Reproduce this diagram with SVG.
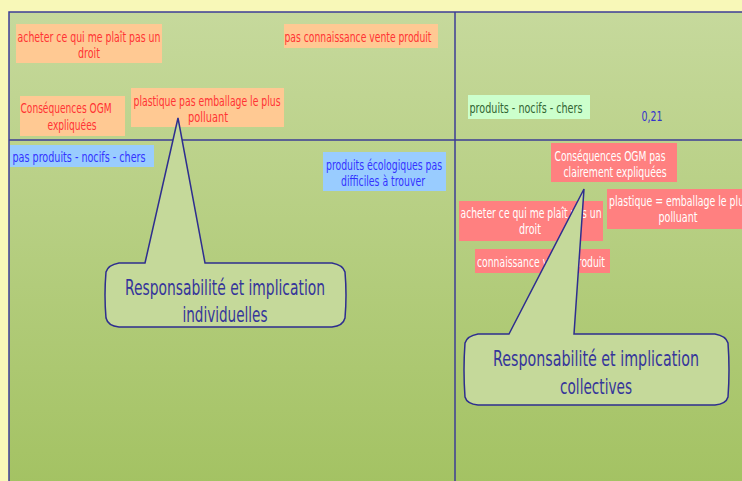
<svg xmlns="http://www.w3.org/2000/svg" width="742" height="481" viewBox="0 0 742 481">
<defs>
<linearGradient id="bg" x1="0" y1="0" x2="0" y2="1">
<stop offset="0" stop-color="#C6D99C"/>
<stop offset="1" stop-color="#A3C262"/>
</linearGradient>
</defs>
<style>
text{font-family:"Liberation Sans Narrow","DejaVu Sans Condensed","Liberation Sans",sans-serif;text-anchor:middle}
.s{font-size:14px}
.big{font-size:22px;fill:#35359A}
.or{fill:#FFC993}
.rt{fill:#FF3333}
.bl{fill:#99CCFF}
.bt{fill:#3333FF}
.sa{fill:#FF8080}
.wt{fill:#FFFFFF}
.grid{stroke:#3C3C96;stroke-width:1.5;fill:none}
.call{fill:#C5D99A;stroke:#2E2E8F;stroke-width:1.5}
</style>
<rect x="0" y="0" width="742" height="481" fill="#F8F8B8"/>
<rect x="9" y="12" width="745" height="480" fill="url(#bg)"/>
<g id="connectors">
<rect class="grid" x="9" y="12" width="745" height="480"/>
<line class="grid" x1="455" y1="12" x2="455" y2="481"/>
<line class="grid" x1="9" y1="140" x2="742" y2="140"/>
</g>
<g id="n1"><rect class="or" x="16" y="24" width="146" height="39"/>
<text class="s rt" x="89" y="42" textLength="143" lengthAdjust="spacingAndGlyphs">acheter ce qui me plaît pas un</text>
<text class="s rt" x="89" y="58" textLength="22" lengthAdjust="spacingAndGlyphs">droit</text></g>
<g id="n2"><rect class="or" x="284" y="24" width="154" height="24"/>
<text class="s rt" x="358" y="42" textLength="147" lengthAdjust="spacingAndGlyphs">pas connaissance vente produit</text></g>
<g id="n3"><rect class="or" x="20" y="96" width="105" height="40"/>
<text class="s rt" x="66" y="113" textLength="91" lengthAdjust="spacingAndGlyphs">Conséquences OGM</text>
<text class="s rt" x="72" y="130" textLength="49" lengthAdjust="spacingAndGlyphs">expliquées</text></g>
<g id="n4"><rect class="or" x="131" y="88" width="153" height="39"/>
<text class="s rt" x="207" y="106" textLength="147" lengthAdjust="spacingAndGlyphs">plastique pas emballage le plus</text>
<text class="s rt" x="208" y="122" textLength="40" lengthAdjust="spacingAndGlyphs">polluant</text></g>
<g id="n5"><rect x="468" y="95" width="122" height="24" fill="#CCFFCC"/>
<text class="s" x="526" y="113" fill="#336633" textLength="113" lengthAdjust="spacingAndGlyphs">produits - nocifs  - chers</text></g>
<g id="n6"><text class="s" x="652" y="121" fill="#3333CC" textLength="21" lengthAdjust="spacingAndGlyphs">0,21</text></g>
<g id="n7"><rect class="bl" x="10" y="145" width="144" height="22"/>
<text class="s bt" x="79" y="162" textLength="133" lengthAdjust="spacingAndGlyphs">pas produits - nocifs  - chers</text></g>
<g id="n8"><rect class="bl" x="323" y="152" width="123" height="39"/>
<text class="s bt" x="384" y="170" textLength="116" lengthAdjust="spacingAndGlyphs">produits écologiques pas</text>
<text class="s bt" x="383" y="186" textLength="84" lengthAdjust="spacingAndGlyphs">difficiles à trouver</text></g>
<g id="n9"><rect class="sa" x="551" y="143" width="126" height="39"/>
<text class="s wt" x="610" y="161" textLength="111" lengthAdjust="spacingAndGlyphs">Conséquences OGM pas</text>
<text class="s wt" x="615" y="177" textLength="103" lengthAdjust="spacingAndGlyphs">clairement expliquées</text></g>
<g id="n10"><rect class="sa" x="607" y="189" width="145" height="40"/>
<text class="s wt" x="679" y="206" textLength="140" lengthAdjust="spacingAndGlyphs">plastique = emballage le plus</text>
<text class="s wt" x="678" y="222" textLength="39" lengthAdjust="spacingAndGlyphs">polluant</text></g>
<g id="n11"><rect class="sa" x="459" y="201" width="144" height="40"/>
<text class="s wt" x="531" y="218" textLength="141" lengthAdjust="spacingAndGlyphs">acheter ce qui me plaît pas un</text>
<text class="s wt" x="530" y="234" textLength="22" lengthAdjust="spacingAndGlyphs">droit</text></g>
<g id="n12"><rect class="sa" x="475" y="249" width="135" height="24"/>
<text class="s wt" x="541" y="267" textLength="128" lengthAdjust="spacingAndGlyphs">connaissance vente produit</text></g>
<g id="c1">
<path class="call" d="M145,263 L178,118 L205,263 L332,263 Q343,265 345,272 Q347,295 345,318 Q343,326 332,327 L119,327 Q108,326 106,318 Q104,295 106,272 Q108,265 119,263 Z"/>
<text class="big" x="225" y="295" textLength="200" lengthAdjust="spacingAndGlyphs">Responsabilité et implication</text>
<text class="big" x="225" y="322" textLength="85" lengthAdjust="spacingAndGlyphs">individuelles</text>
</g>
<g id="c2">
<path class="call" d="M509,334 L584,189 L574,334 L715,334 Q726,336 728,343 Q730,370 728,397 Q726,404 715,405 L478,405 Q467,404 465,397 Q463,370 465,343 Q467,336 478,334 Z"/>
<text class="big" x="596" y="366" textLength="206" lengthAdjust="spacingAndGlyphs">Responsabilité  et implication</text>
<text class="big" x="596" y="394" textLength="72" lengthAdjust="spacingAndGlyphs">collectives</text>
</g>
</svg>
